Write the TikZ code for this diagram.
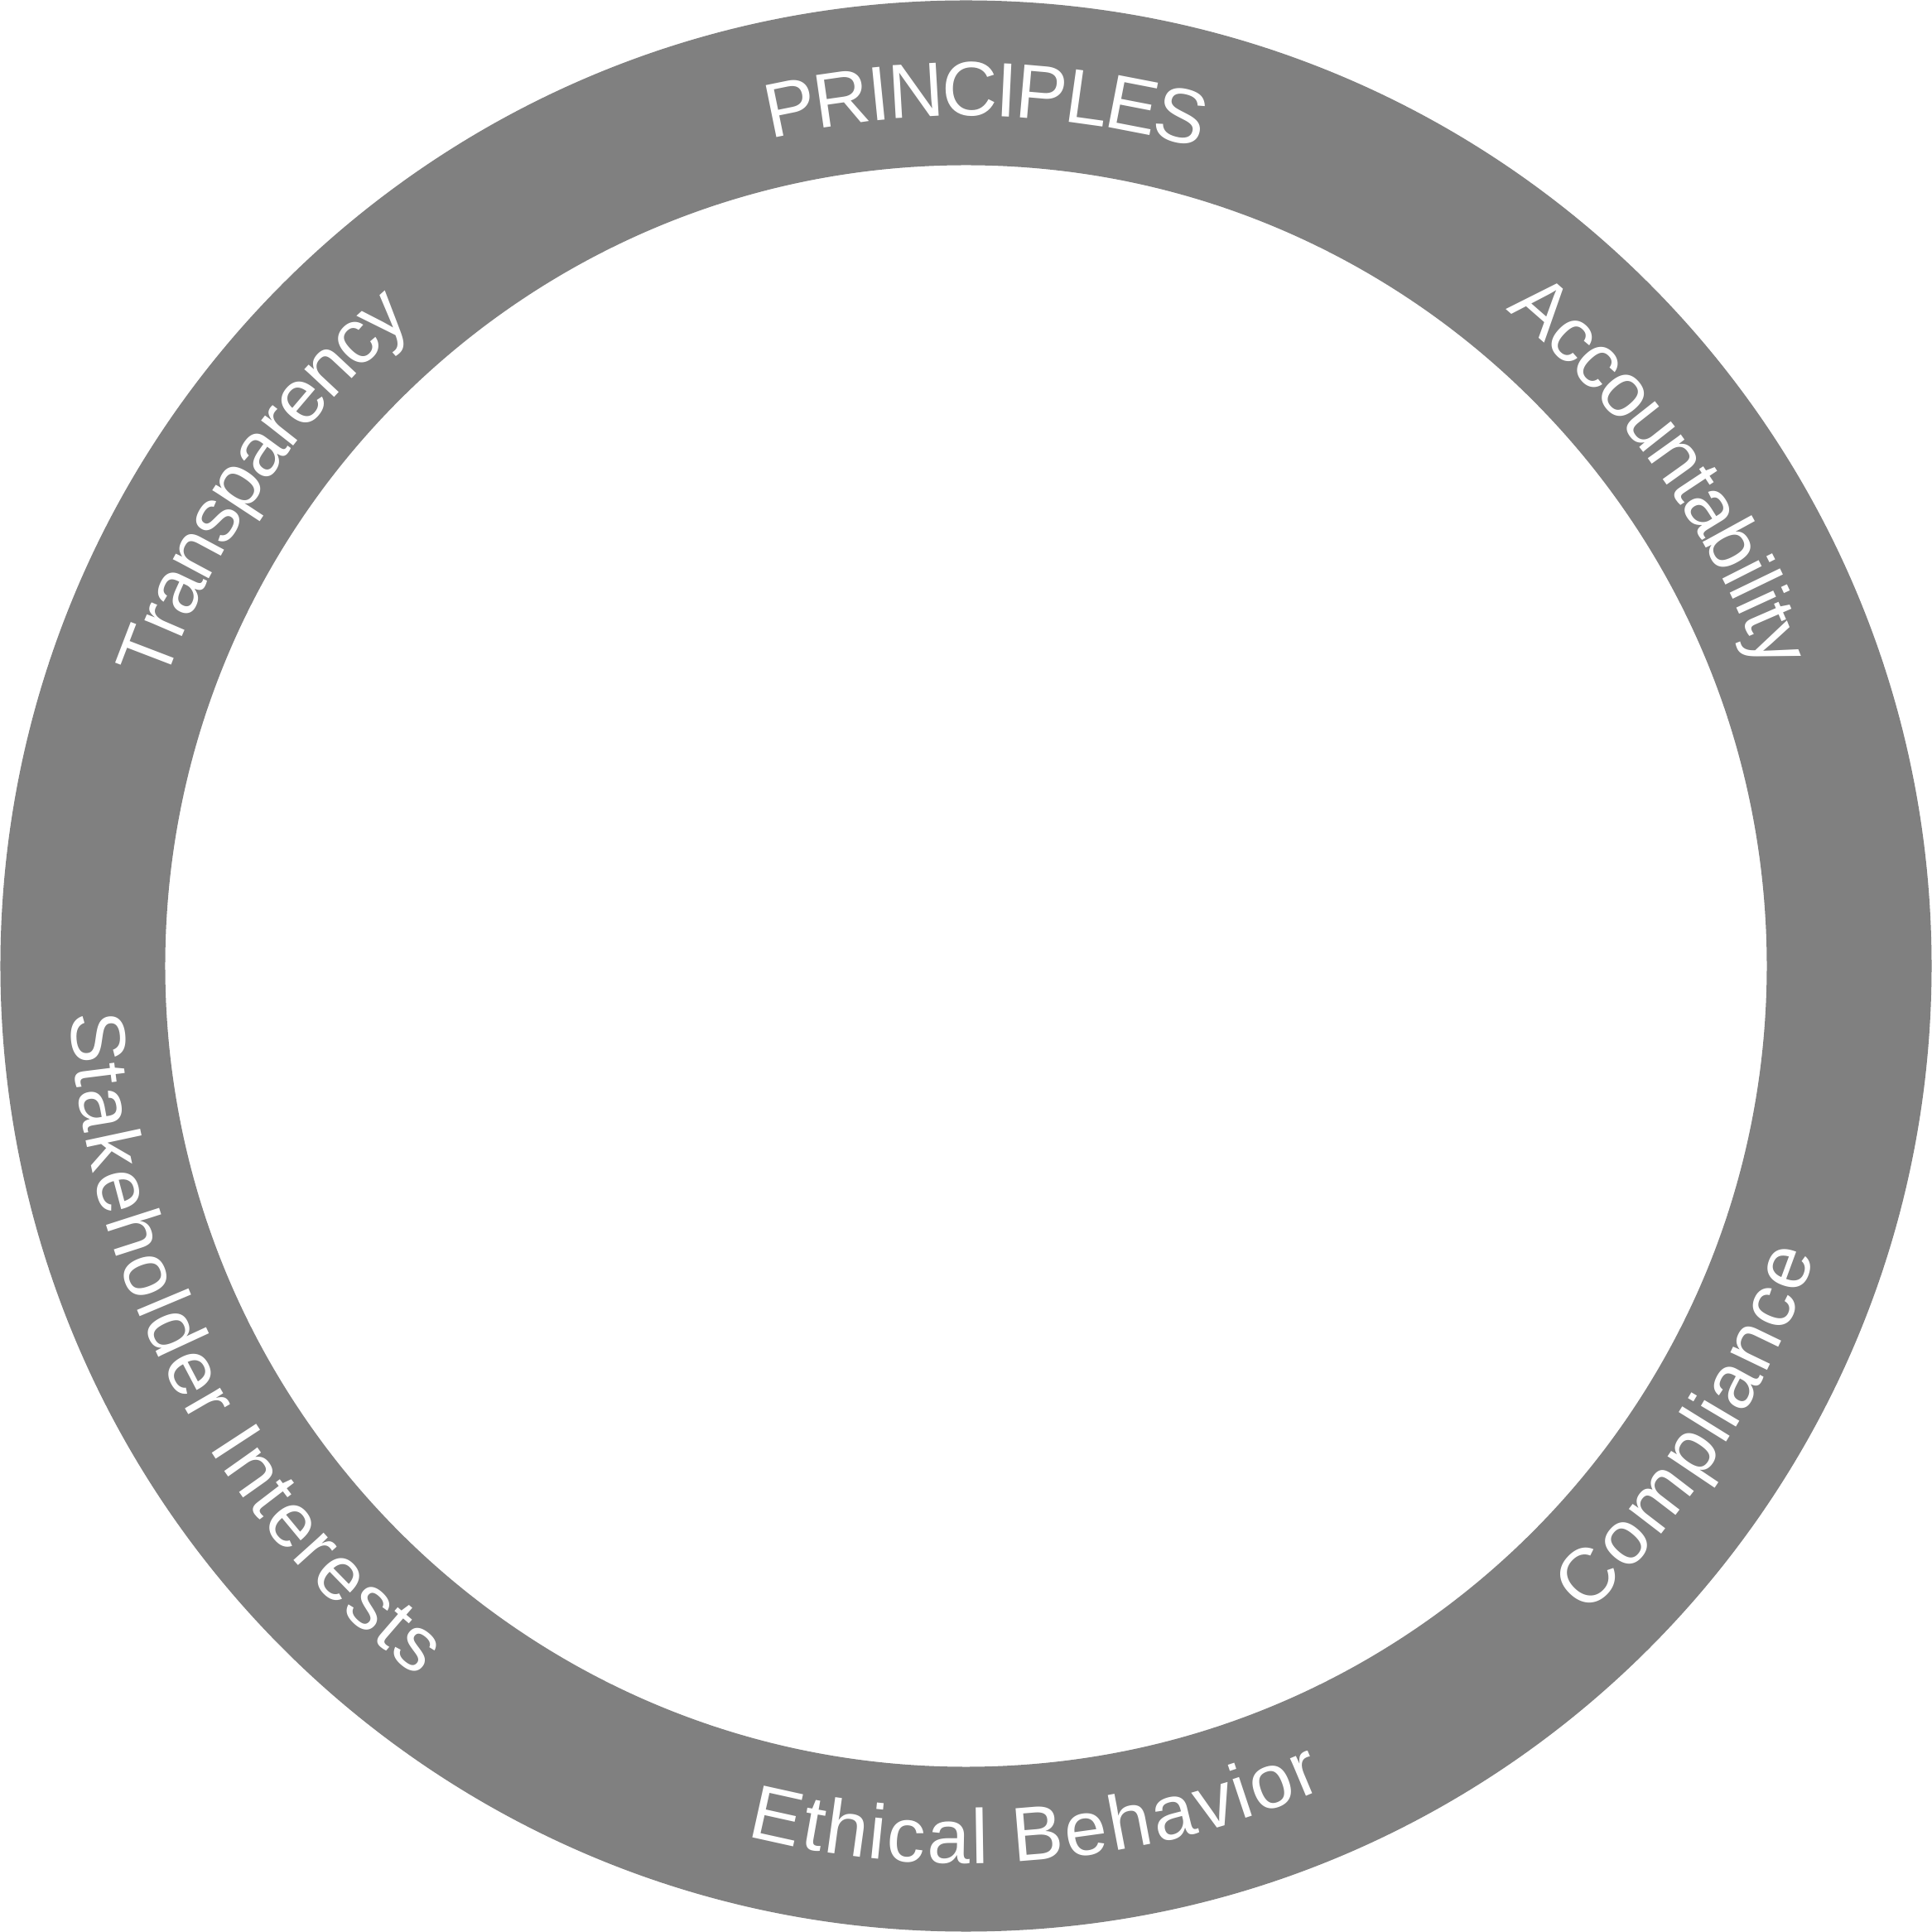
\documentclass[tikz,border=0pt]{standalone}
\usepackage{fontspec}
\newfontfamily\ringfont{Liberation Sans}
\usetikzlibrary{decorations.text}
\definecolor{ringgray}{HTML}{808080}
\newcommand{\ringfmt}{\color{white}\ringfont\fontsize{26.46pt}{32pt}\selectfont}
\tikzset{
  ringlabel/.style={decorate, decoration={text along path, text align=left, raise=-0.666cm, text={|\ringfmt|#1}}}
}
\begin{document}
\begin{tikzpicture}
\useasboundingbox (-11.665,-11.665) rectangle (11.665,11.665);
\fill[white] (-11.665,-11.665) rectangle (11.665,11.665);
\fill[ringgray, even odd rule] (0,0) circle[radius=11.66] (0,0) circle[radius=9.67];
% outward-facing labels (clockwise)
\path[ringlabel={PRINCIPLES}] (103.16:10.93) arc[start angle=103.16, end angle=55, radius=10.93];
\path[ringlabel={Accountability}] (50.45:10.93) arc[start angle=50.45, end angle=0, radius=10.93];
\path[ringlabel={Transparency}] (160.5:10.93) arc[start angle=160.5, end angle=110, radius=10.93];
% inward-facing labels (counter-clockwise)
\path[ringlabel={Ethical Behavior}] (-104.24:10.17) arc[start angle=-104.24, end angle=-50, radius=10.17];
\path[ringlabel={Stakeholder Interests}] (182.95:10.17) arc[start angle=182.95, end angle=250, radius=10.17];
\path[ringlabel={Compliance}] (-46.4:10.17) arc[start angle=-46.4, end angle=0, radius=10.17];
\end{tikzpicture}
\end{document}
